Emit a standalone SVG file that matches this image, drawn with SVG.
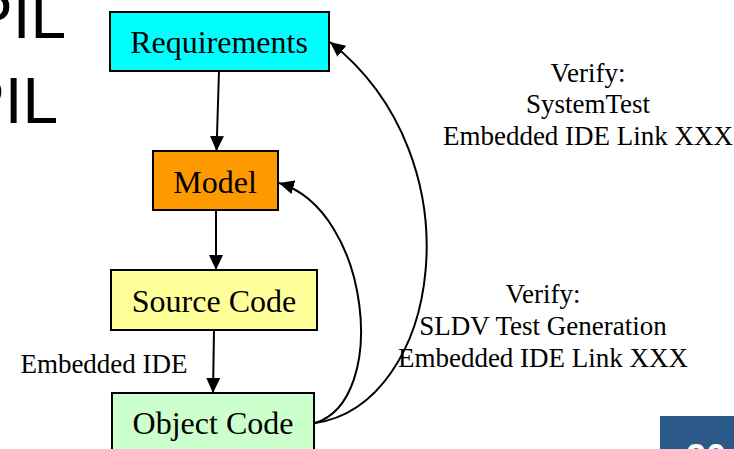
<svg xmlns="http://www.w3.org/2000/svg" width="734" height="449" viewBox="0 0 734 449">
<style>
.box{stroke:#000;stroke-width:2}
.lbl{font-family:"Liberation Serif","Times New Roman",serif;font-size:32px;fill:#000;text-anchor:middle}
.note{font-family:"Liberation Serif","Times New Roman",serif;font-size:27px;fill:#000;text-anchor:middle}
.edge{fill:none;stroke:#000;stroke-width:2}
.bg{font-family:"Liberation Sans",Arial,sans-serif;font-size:64px;fill:#000}
</style>
<defs>
<marker id="ah" viewBox="0 0 15 14" refX="15" refY="7" markerWidth="15" markerHeight="14" markerUnits="userSpaceOnUse" orient="auto">
<path d="M0,0 L15,7 L0,14 z" fill="#000"/>
</marker>
</defs>
<rect width="734" height="449" fill="#fff"/>
<g id="background">
<text class="bg" x="-30" y="38">PIL</text>
<text class="bg" x="-38" y="123">PIL</text>
<rect x="660" y="416" width="80" height="40" fill="#2B5A88"/>
<text x="706" y="470" font-family="Liberation Sans,Arial,sans-serif" font-weight="bold" font-size="36" fill="#fff" text-anchor="middle">20</text>
</g>
<g id="connectors">
<path class="edge" d="M219,71 L216.5,151" marker-end="url(#ah)"/>
<path class="edge" d="M216,210 L216,270" marker-end="url(#ah)"/>
<path class="edge" d="M214,330 L213,393" marker-end="url(#ah)"/>
<path class="edge" d="M315,423 C390,400 370,210 279,183" marker-end="url(#ah)"/>
<path class="edge" d="M315,423 C440,405 480,160 330,42" marker-end="url(#ah)"/>
</g>
<g id="n-requirements">
<rect class="box" x="110" y="12" width="219" height="59" fill="#00FFFF"/>
<text class="lbl" x="219" y="53">Requirements</text>
</g>
<g id="n-model">
<rect class="box" x="153" y="151" width="125" height="59" fill="#FF9900"/>
<text class="lbl" x="215" y="193">Model</text>
</g>
<g id="n-source">
<rect class="box" x="111" y="270" width="206" height="60" fill="#FFFF99"/>
<text class="lbl" x="214" y="312">Source Code</text>
</g>
<g id="n-object">
<rect class="box" x="112" y="393" width="202" height="70" fill="#CCFFCC"/>
<text class="lbl" x="213" y="434">Object Code</text>
</g>
<g id="labels">
<text class="note" x="104" y="373">Embedded IDE</text>
<text class="note" x="588" y="82">Verify:</text>
<text class="note" x="588" y="113">SystemTest</text>
<text class="note" x="588" y="145">Embedded IDE Link XXX</text>
<text class="note" x="543" y="303">Verify:</text>
<text class="note" x="543" y="335">SLDV Test Generation</text>
<text class="note" x="543" y="367">Embedded IDE Link XXX</text>
</g>
</svg>
